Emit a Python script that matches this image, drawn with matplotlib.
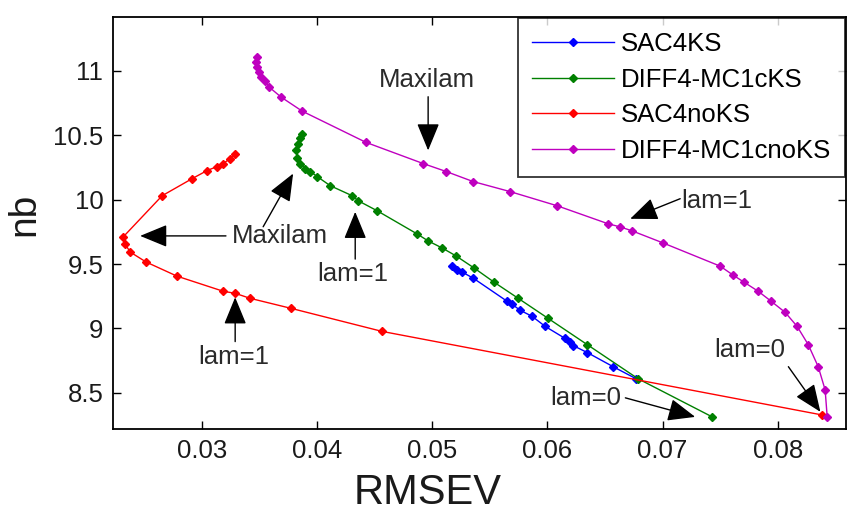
#!/usr/bin/env python3
"""
RMSEV versus nb for the SAC4 and DIFF4-MC1c models, with and without KS,
traced along the lam path from lam=0 up to Maxilam.
"""

import matplotlib
matplotlib.use('Agg')
import matplotlib.pyplot as plt

# SAC4KS
sac4ks_rmsev = [0.05174, 0.05217, 0.05260, 0.05356, 0.05651, 0.05694, 0.05764,
                0.05868, 0.05981, 0.06155, 0.06198, 0.06224, 0.06346, 0.06571,
                0.06771]
sac4ks_nb = [9.484, 9.453, 9.438, 9.391, 9.211, 9.188, 9.141,
             9.094, 9.016, 8.922, 8.891, 8.867, 8.813, 8.703,
             8.609]

# DIFF4-MC1cKS
diff_ks_rmsev = [0.03872, 0.03854, 0.03837, 0.03819, 0.03828, 0.03854, 0.03898,
                 0.03941, 0.04002, 0.04115, 0.04306, 0.04358, 0.04523, 0.04870,
                 0.04965, 0.05087, 0.05208, 0.05365, 0.05538, 0.05747, 0.06007,
                 0.06345, 0.06788, 0.07431]
diff_ks_nb = [10.508, 10.477, 10.430, 10.383, 10.328, 10.281, 10.242,
              10.219, 10.180, 10.109, 10.031, 9.992, 9.914, 9.734,
              9.680, 9.625, 9.563, 9.469, 9.359, 9.234, 9.078,
              8.875, 8.609, 8.313]

# SAC4noKS
sac4noks_rmsev = [0.03290, 0.03247, 0.03186, 0.03134, 0.03047, 0.02917, 0.02656,
                  0.02318, 0.02335, 0.02378, 0.02517, 0.02786, 0.03186, 0.03290,
                  0.03420, 0.03776, 0.04566, 0.08385]
sac4noks_nb = [10.359, 10.320, 10.281, 10.258, 10.227, 10.164, 10.031,
               9.711, 9.656, 9.594, 9.516, 9.406, 9.289, 9.273,
               9.234, 9.156, 8.977, 8.328]

# DIFF4-MC1cnoKS
diff_noks_rmsev = [0.03481, 0.03472, 0.03481, 0.03498, 0.03516, 0.03550, 0.03585,
                   0.03689, 0.03872, 0.04427, 0.04922, 0.05122, 0.05356, 0.05677,
                   0.06085, 0.06528, 0.06632, 0.06736, 0.07005, 0.07500, 0.07613,
                   0.07708, 0.07830, 0.07943, 0.08064, 0.08168, 0.08264, 0.08351,
                   0.08411, 0.08429]
diff_noks_nb = [11.109, 11.070, 11.031, 10.992, 10.953, 10.922, 10.875,
                10.797, 10.688, 10.445, 10.281, 10.219, 10.141, 10.063,
                9.953, 9.813, 9.789, 9.758, 9.664, 9.484, 9.414,
                9.359, 9.289, 9.211, 9.125, 9.016, 8.875, 8.703,
                8.523, 8.313]

series_labels = ['SAC4KS', 'DIFF4-MC1cKS', 'SAC4noKS', 'DIFF4-MC1cnoKS']
series_colors = ['#0000ff', '#008000', '#ff0000', '#bf00bf']

# (label, label position, arrow start, arrow tip)
annotations = [
    ('Maxilam', (0.04957, 10.93), (0.04965, 10.80), (0.04965, 10.383)),
    ('Maxilam', (0.03681, 9.719), (0.03210, 9.719), (0.02465, 9.719)),
    ('', None, (0.03533, 9.790), (0.03793, 10.203)),
    ('lam=1', (0.03281, 8.781), (0.03290, 8.898), (0.03290, 9.242)),
    ('lam=1', (0.04313, 9.422), (0.04332, 9.539), (0.04332, 9.906)),
    ('lam=1', (0.07474, 9.992), (0.07153, 10.008), (0.06719, 9.852)),
    ('lam=0', (0.06330, 8.461), (0.06677, 8.461), (0.07283, 8.313)),
    ('lam=0', (0.07753, 8.836), (0.08092, 8.703), (0.08370, 8.352)),
]


def main():
    plt.rcParams['font.family'] = ['Liberation Sans', 'DejaVu Sans']

    fig = plt.figure(figsize=(8.5, 5.13), dpi=100)
    ax = fig.add_axes([0.133, 0.164, 0.862, 0.803])

    series = [
        (sac4ks_rmsev, sac4ks_nb),
        (diff_ks_rmsev, diff_ks_nb),
        (sac4noks_rmsev, sac4noks_nb),
        (diff_noks_rmsev, diff_noks_nb),
    ]
    for (xs, ys), label, color in zip(series, series_labels, series_colors):
        ax.plot(xs, ys, '-D', color=color, lw=1.0, ms=4.5, mec=color,
                label=label)

    for text, text_xy, start, tip in annotations:
        ax.annotate('', xy=tip, xytext=start,
                    arrowprops=dict(arrowstyle='-|>,head_length=1.7,head_width=0.7',
                                    color='black', lw=1.0,
                                    shrinkA=0, shrinkB=0))
        if text:
            ax.text(text_xy[0], text_xy[1], text, fontsize=18.5,
                    ha='center', va='center', color='#2a2a2a')

    ax.set_xlim(0.0223, 0.0859)
    ax.set_ylim(8.22, 11.42)
    ax.set_xticks([0.03, 0.04, 0.05, 0.06, 0.07, 0.08])
    ax.set_xticklabels(['0.03', '0.04', '0.05', '0.06', '0.07', '0.08'])
    ax.set_yticks([8.5, 9, 9.5, 10, 10.5, 11])
    ax.set_yticklabels(['8.5', '9', '9.5', '10', '10.5', '11'])
    ax.tick_params(direction='in', length=6, width=1.0, labelsize=18.5,
                   top=True, right=True, pad=7, labelcolor='#1a1a1a')
    for spine in ax.spines.values():
        spine.set_linewidth(1.3)

    ax.set_xlabel('RMSEV', fontsize=30, color='#1a1a1a')
    ax.set_ylabel('nb', fontsize=28, color='#1a1a1a')
    ax.xaxis.set_label_coords(0.43, -0.108)
    ax.yaxis.set_label_coords(-0.097, 0.52)

    leg = ax.legend(loc='upper right', bbox_to_anchor=(845 / 850, 1 - 18 / 513),
                    bbox_transform=fig.transFigure, fontsize=18.5, frameon=True,
                    fancybox=False, edgecolor='black', borderaxespad=0,
                    handlelength=3.2, handletextpad=0.25, labelspacing=0.45,
                    borderpad=0.55)
    leg.get_frame().set_linewidth(1.3)

    fig.savefig('out.png', dpi=100)
    return 0


if __name__ == '__main__':
    main()
